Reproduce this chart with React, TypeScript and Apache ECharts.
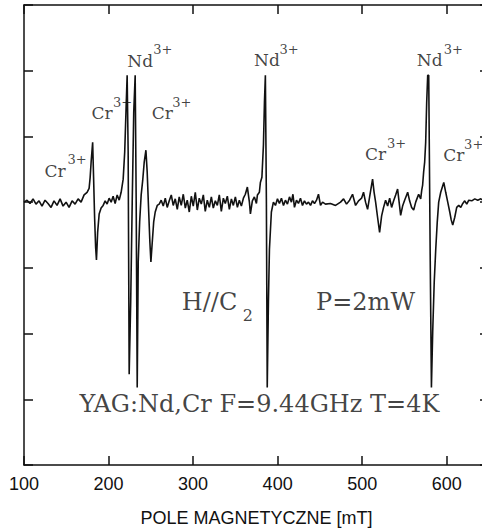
import React, { useEffect, useRef } from "react";
import * as echarts from "echarts";

// Magnetic field (mT) of each trace point
const fieldMT: number[] = [
  100.0, 103.6, 107.1, 110.7, 114.2, 117.8, 121.3, 124.9, 128.4, 132.0,
  135.5, 139.1, 142.7, 146.2, 149.8, 153.3, 156.9, 160.4, 164.0, 167.5,
  171.1, 174.6, 177.0, 178.2, 179.4, 181.2, 182.3, 183.5, 184.7, 185.7,
  187.1, 188.9, 191.2, 193.6, 196.0, 198.3, 200.7, 203.1, 205.4, 207.8,
  210.2, 212.6, 214.9, 217.3, 219.1, 220.8, 222.0, 223.2, 224.4, 226.2,
  228.0, 229.8, 231.5, 232.7, 233.9, 235.1, 236.8, 238.6, 240.4, 242.2,
  244.2, 245.7, 247.5, 248.9, 250.1, 251.7, 253.4, 255.2, 257.6, 259.9,
  262.3, 264.7, 267.1, 269.4, 271.8, 274.2, 276.5, 278.9, 281.3, 283.6,
  286.0, 288.4, 290.8, 293.1, 295.5, 297.9, 300.2, 302.6, 305.0, 307.3,
  309.7, 312.1, 314.4, 316.8, 319.2, 321.6, 323.9, 326.3, 328.7, 331.0,
  333.4, 335.8, 338.1, 340.5, 342.9, 345.3, 347.6, 350.0, 352.4, 354.7,
  357.1, 359.5, 361.8, 364.2, 366.6, 367.8, 370.1, 372.5, 374.9, 376.1,
  378.4, 379.6, 381.4, 383.2, 384.4, 385.5, 386.7, 387.7, 389.1, 390.3,
  392.6, 395.0, 397.4, 399.8, 402.1, 404.5, 406.9, 409.2, 411.6, 414.0,
  416.3, 418.1, 419.9, 422.3, 424.6, 427.0, 429.4, 431.7, 434.1, 436.5,
  438.9, 441.2, 443.6, 446.0, 448.3, 450.7, 453.1, 456.6, 462.5, 468.5,
  474.4, 478.0, 481.5, 485.1, 488.6, 492.2, 495.7, 499.3, 501.6, 504.0,
  506.4, 508.8, 511.1, 512.3, 514.1, 515.9, 518.2, 520.6, 523.0, 525.3,
  527.7, 530.1, 532.5, 534.8, 537.2, 539.6, 541.9, 543.7, 545.5, 547.8,
  550.2, 552.6, 553.8, 556.1, 558.5, 560.9, 563.3, 565.6, 566.8, 569.2,
  570.4, 571.5, 572.7, 573.9, 575.1, 576.3, 577.5, 578.7, 580.4, 581.9,
  583.4, 585.2, 587.0, 588.8, 590.5, 592.9, 596.5, 598.8, 601.2, 603.6,
  605.3, 607.1, 609.5, 611.8, 614.2, 616.6, 619.0, 621.3, 623.7, 626.1,
  629.6, 633.2, 636.7, 640.3, 643.8, 650.0,
];

// EPR derivative signal (arbitrary units)
const signal: number[] = [
  0.0, 0.03, -0.02, 0.05, -0.03, 0.02, -0.06, 0.03, -0.02, -0.08,
  0.02, -0.05, 0.05, -0.06, 0.0, -0.08, 0.02, -0.03, 0.05, 0.0,
  0.11, 0.15, 0.21, 0.37, 0.61, 0.91, 0.38, -0.23, -0.68, -0.88,
  -0.46, -0.18, -0.09, -0.05, 0.02, -0.03, 0.06, 0.0, 0.09, -0.02,
  0.11, 0.03, 0.15, 0.35, 0.76, 1.45, 1.93, 0.76, -2.62, -1.52,
  0.0, 1.37, 1.93, 0.0, -2.82, -0.91, -0.3, 0.11, 0.33, 0.61,
  0.79, 0.46, -0.15, -0.61, -0.91, -0.61, -0.3, -0.15, -0.05, -0.03,
  0.03, -0.06, 0.06, -0.08, 0.02, 0.11, -0.05, 0.05, -0.11, 0.08,
  -0.05, 0.12, -0.09, 0.03, -0.15, 0.09, -0.06, 0.15, -0.12, 0.06,
  -0.03, 0.11, -0.14, 0.03, -0.08, 0.08, -0.09, 0.02, -0.05, 0.11,
  -0.14, 0.06, -0.02, 0.09, -0.11, 0.05, -0.05, 0.08, -0.08, 0.03,
  -0.06, 0.06, 0.12, 0.23, 0.0, -0.18, 0.02, 0.08, -0.02, 0.11,
  0.15, 0.3, 0.38, 0.87, 1.52, 1.93, 0.0, -2.82, -1.52, -0.72,
  -0.15, 0.0, -0.05, 0.05, -0.02, 0.06, -0.05, 0.03, -0.03, 0.08,
  0.0, 0.12, -0.08, 0.03, -0.02, 0.06, -0.05, 0.02, -0.03, 0.0,
  -0.05, 0.02, -0.02, 0.03, 0.12, -0.05, 0.0, -0.03, -0.02, -0.05,
  0.0, 0.05, -0.03, 0.03, 0.12, -0.05, 0.02, 0.06, 0.15, 0.0,
  -0.11, 0.08, 0.26, 0.35, 0.15, 0.0, -0.23, -0.46, -0.21, -0.08,
  0.03, -0.06, 0.06, -0.08, 0.02, 0.11, 0.2, 0.0, -0.2, -0.06,
  0.03, 0.11, 0.15, 0.02, -0.08, -0.12, 0.0, 0.08, 0.12, 0.05,
  0.18, 0.26, 0.46, 0.61, 0.91, 1.52, 1.93, 1.93, -0.76, -2.82,
  -1.98, -1.22, -0.72, -0.3, 0.0, 0.15, 0.3, 0.15, 0.0, -0.15,
  -0.27, -0.35, -0.23, -0.08, -0.05, -0.08, -0.02, 0.02, -0.03, 0.03,
  0.02, 0.05, 0.03, 0.05, 0.02, 0.03,
];

// Ion labels: base text, superscript, and their anchor positions (field, signal)
const ionNames: string[] = ["Cr", "Cr", "Nd", "Cr", "Nd", "Cr", "Nd", "Cr"];
const ionCharges: string[] = ["3+", "3+", "3+", "3+", "3+", "3+", "3+", "3+"];
const ionNameAt: [number, number][] = [
  [136.7, 0.47], [192.4, 1.36], [237.4, 2.15], [263.5, 1.36],
  [387.3, 2.16], [515.9, 0.73], [579.8, 2.16], [608.3, 0.72],
];
const ionChargeAt: [number, number][] = [
  [162.8, 0.65], [216.7, 1.51], [264.1, 2.33], [286.6, 1.51],
  [413.4, 2.33], [540.7, 0.9], [607.7, 2.33], [631.9, 0.88],
];

// Experimental condition notes
const noteTexts: string[] = ["H//C", "P=2mW", "YAG:Nd,Cr F=9.44GHz T=4K"];
const noteAt: [number, number][] = [[319.5, -1.52], [504.0, -1.52], [378.4, -3.07]];
const subText = "2";
const subAt: [number, number] = [364.8, -1.72];

const xTitle = "POLE MAGNETYCZNE [mT]";

export default function App() {
  const ref = useRef<HTMLDivElement>(null);
  useEffect(() => {
    if (!ref.current) return;
    const chart = echarts.init(ref.current, undefined, { renderer: "svg" });
    const serif = "DejaVu Serif";
    const sans = "Liberation Sans";
    const black = "#111";

    const textItem = (pos: [number, number], text: string, size: number) => ({
      value: pos,
      label: {
        show: true,
        position: "inside",
        formatter: text,
        fontSize: size,
        fontFamily: serif,
        color: black,
        align: "center",
        verticalAlign: "middle",
      },
    });

    const labelData = [
      ...ionNames.map((t, i) => textItem(ionNameAt[i], t, 17)),
      ...ionCharges.map((t, i) => textItem(ionChargeAt[i], t, 13)),
      ...noteTexts.map((t, i) => textItem(noteAt[i], t, 24)),
      textItem(subAt, subText, 16),
    ];

    const axisLine = { show: true, onZero: false, lineStyle: { color: black, width: 1.5 } };
    const axisTick = { show: true, inside: true, length: 9, lineStyle: { color: black, width: 1.5 } };

    chart.setOption({
      animation: false,
      backgroundColor: "#fff",
      grid: { left: 24, top: 5, width: 465, height: 460, containLabel: false },
      xAxis: [
        {
          type: "value",
          position: "bottom",
          min: 100,
          max: 650,
          interval: 100,
          axisLine,
          axisTick,
          splitLine: { show: false },
          axisLabel: {
            show: true,
            fontSize: 18,
            fontFamily: sans,
            color: black,
            margin: 10,
            showMaxLabel: false,
          },
          name: xTitle,
          nameLocation: "middle",
          nameGap: 44,
          nameTextStyle: { fontSize: 18, fontFamily: sans, color: black },
        },
        {
          type: "value",
          position: "top",
          min: 100,
          max: 650,
          interval: 100,
          axisLine,
          axisTick,
          splitLine: { show: false },
          axisLabel: { show: false },
        },
      ],
      yAxis: [
        {
          type: "value",
          position: "left",
          min: -4,
          max: 3,
          interval: 1,
          axisLine,
          axisTick,
          splitLine: { show: false },
          axisLabel: { show: false },
        },
        {
          type: "value",
          position: "right",
          min: -4,
          max: 3,
          interval: 1,
          axisLine,
          axisTick,
          splitLine: { show: false },
          axisLabel: { show: false },
        },
      ],
      series: [
        {
          type: "line",
          xAxisIndex: 0,
          yAxisIndex: 0,
          data: fieldMT.map((f, i) => [f, signal[i]]),
          showSymbol: false,
          symbol: "none",
          lineStyle: { color: black, width: 1.6 },
          silent: true,
        },
        {
          type: "scatter",
          xAxisIndex: 0,
          yAxisIndex: 0,
          symbolSize: 1,
          itemStyle: { color: "rgba(0,0,0,0)" },
          data: labelData,
          silent: true,
        },
      ],
    });
    return () => chart.dispose();
  }, []);

  return (
    <div
      style={{
        position: "absolute",
        left: 0,
        top: 0,
        width: 482,
        height: 532,
        overflow: "hidden",
        background: "#fff",
      }}
    >
      <div ref={ref} style={{ width: 500, height: 532 }} />
    </div>
  );
}
